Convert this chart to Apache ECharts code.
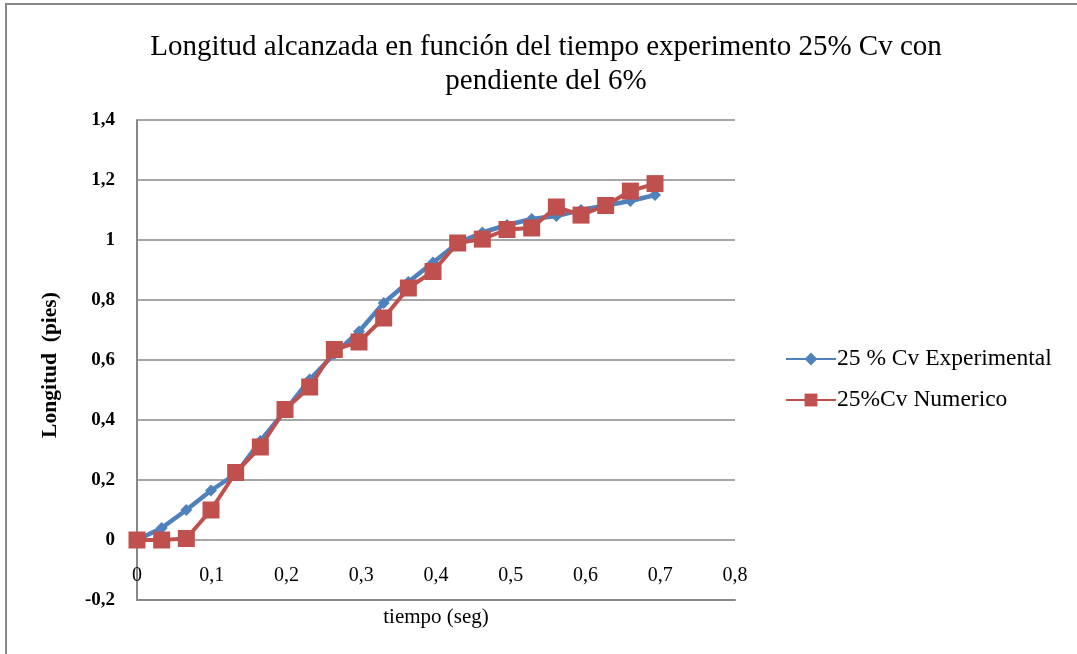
<!DOCTYPE html>
<html>
<head>
<meta charset="utf-8">
<script src="https://cdn.jsdelivr.net/npm/echarts@6/dist/echarts.min.js"></script>
<style>
html,body{margin:0;padding:0;background:#fff;}
#chart{position:absolute;left:0;top:0;width:1077px;height:654px;}
#frame{position:absolute;left:5px;top:3px;width:1080px;height:660px;border-left:2px solid #888;border-top:2px solid #888;pointer-events:none;}
</style>
</head>
<body>
<div id="chart"></div>
<div id="frame"></div>
<script>
const times = [0, 0.033, 0.066, 0.099, 0.132, 0.165, 0.198, 0.231, 0.264, 0.297, 0.330,
  0.363, 0.396, 0.429, 0.462, 0.495, 0.528, 0.561, 0.594, 0.627, 0.660, 0.693];
const experimental = [0, 0.04, 0.10, 0.165, 0.22, 0.33, 0.43, 0.535, 0.62, 0.695, 0.79,
  0.86, 0.925, 0.99, 1.025, 1.05, 1.07, 1.08, 1.10, 1.115, 1.13, 1.15];
const numerico = [0, 0, 0.005, 0.10, 0.225, 0.31, 0.435, 0.51, 0.635, 0.66, 0.74,
  0.84, 0.895, 0.99, 1.003, 1.035, 1.04, 1.11, 1.083, 1.115, 1.163, 1.188];
const seriesNames = ['25 % Cv Experimental', '25%Cv Numerico'];
const xTicks = [0, 0.1, 0.2, 0.3, 0.4, 0.5, 0.6, 0.7, 0.8];
const yTicks = [-0.2, 0, 0.2, 0.4, 0.6, 0.8, 1, 1.2, 1.4];
const titleText = 'Longitud alcanzada en función del tiempo experimento 25% Cv con\npendiente del 6%';
const xName = 'tiempo (seg)';
const yName = 'Longitud  (pies)';

const fmt = v => String(Math.round(v * 10) / 10).replace('.', ',');
const FONT = 'Liberation Serif';

const chart = echarts.init(document.getElementById('chart'), null, {renderer: 'canvas'});
chart.setOption({
  animation: false,
  backgroundColor: '#fff',
  title: {
    text: titleText,
    left: 541, top: 25, textAlign: 'center',
    textStyle: {fontFamily: FONT, fontSize: 29, fontWeight: 'normal', color: '#000', lineHeight: 34}
  },
  legend: {
    orient: 'vertical', left: 780, top: 342, itemGap: 17,
    itemWidth: 50, itemHeight: 16,
    textStyle: {fontFamily: FONT, fontSize: 23.5, color: '#000', padding: [0, 0, 0, -4]},
    data: seriesNames
  },
  grid: {left: 137, right: 342, top: 120, bottom: 54, containLabel: false, outerBoundsMode: 'none'},
  xAxis: {
    type: 'value', min: xTicks[0], max: xTicks[xTicks.length - 1], interval: 0.1,
    name: xName, nameLocation: 'middle', nameGap: 7,
    nameTextStyle: {fontFamily: FONT, fontSize: 21, color: '#000', verticalAlign: 'top'},
    axisLine: {onZero: false, lineStyle: {color: '#888', width: 2}},
    axisTick: {show: false},
    splitLine: {show: false},
    axisLabel: {fontFamily: FONT, fontSize: 20, color: '#000', margin: -34, formatter: fmt}
  },
  yAxis: {
    type: 'value', min: yTicks[0], max: yTicks[yTicks.length - 1], interval: 0.2,
    name: yName, nameLocation: 'middle', nameGap: 76, nameRotate: 90,
    nameTextStyle: {fontFamily: FONT, fontSize: 21.5, fontWeight: 'bold', color: '#000', padding: [0, 10, 0, 0]},
    axisLine: {show: true, lineStyle: {color: '#888', width: 2}},
    axisTick: {show: false},
    splitLine: {show: true, lineStyle: {color: '#888', width: 1.5}},
    axisLabel: {fontFamily: FONT, fontSize: 19, fontWeight: 'bold', color: '#000', margin: 22, formatter: fmt}
  },
  series: [
    {
      name: seriesNames[0], type: 'line',
      data: times.map((t, i) => [t, experimental[i]]),
      symbol: 'diamond', symbolSize: 12,
      lineStyle: {color: '#4F81BD', width: 4.5},
      itemStyle: {color: '#4F81BD'},
      z: 2
    },
    {
      name: seriesNames[1], type: 'line',
      data: times.map((t, i) => [t, numerico[i]]),
      symbol: 'rect', symbolSize: 17,
      lineStyle: {color: '#C0504D', width: 4},
      itemStyle: {color: '#C0504D'},
      z: 3
    }
  ]
});
</script>
</body>
</html>
